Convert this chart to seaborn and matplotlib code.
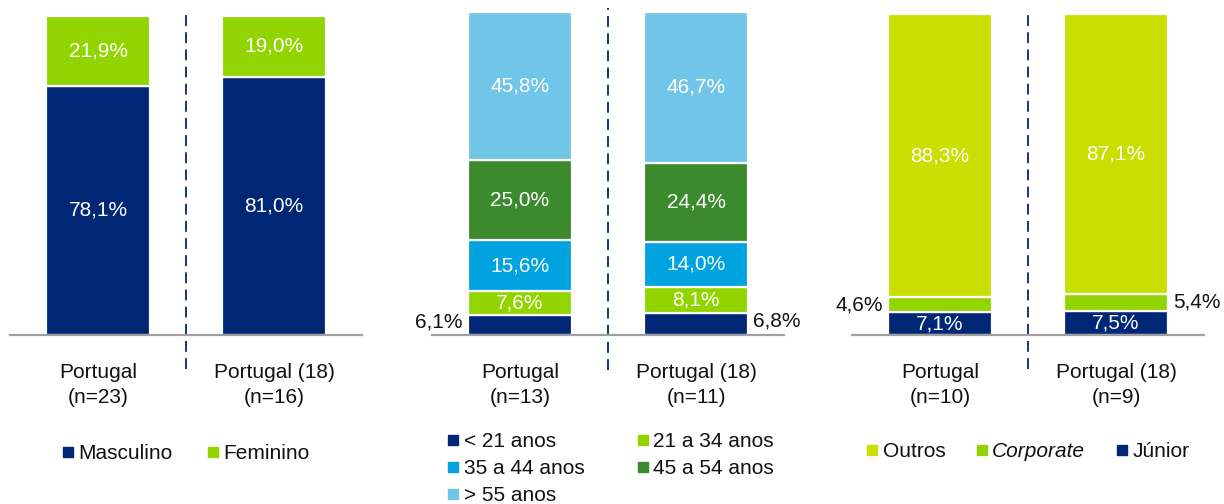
import numpy as np
import pandas as pd
import matplotlib
matplotlib.use("Agg")
import matplotlib.pyplot as plt
import seaborn as sns
from matplotlib.lines import Line2D

sns.set_theme(style="white")
plt.rcParams['font.family'] = ['Liberation Sans', 'DejaVu Sans']

# ---------------- data ----------------
categories_1 = ["Portugal\n(n=23)", "Portugal (18)\n(n=16)"]
gender_labels = ["Masculino", "Feminino"]
masculino = [78.1, 81.0]
feminino = [21.9, 19.0]

categories_2 = ["Portugal\n(n=13)", "Portugal (18)\n(n=11)"]
age_labels = ["< 21 anos", "21 a 34 anos", "35 a 44 anos", "45 a 54 anos", "> 55 anos"]
age_lt21 = [6.1, 6.8]
age_21_34 = [7.6, 8.1]
age_35_44 = [15.6, 14.0]
age_45_54 = [25.0, 24.4]
age_gt55 = [45.8, 46.7]

categories_3 = ["Portugal\n(n=10)", "Portugal (18)\n(n=9)"]
type_labels = ["Júnior", "Corporate", "Outros"]
junior = [7.1, 7.5]
corporate = [4.6, 5.4]
outros = [88.3, 87.1]

# ---------------- style ----------------
NAVY = "#002776"
GREEN = "#92D400"
LIME = "#C8DF00"
CYAN = "#00A3E0"
DKGREEN = "#3C8A2E"
LTBLUE = "#71C5E8"
FS = 15

W, H = 1224, 504
fig = plt.figure(figsize=(W / 100, H / 100), dpi=100)


def fmt(v):
    return f"{v:.1f}%".replace(".", ",")


def make_axes(left, right, top, base):
    return fig.add_axes([left / W, (H - base) / H, (right - left) / W, (base - top) / H])


def panel(ax, cats, series, names, colors, outside, out_dy=0):
    bottoms = np.zeros(len(cats))
    width = 0.59
    for si, (vals, name, col) in enumerate(zip(series, names, colors)):
        df = pd.DataFrame({"cat": cats, "val": vals})
        sns.barplot(data=df, x="cat", y="val", order=cats, color=col, width=width,
                    bottom=bottoms.copy(), edgecolor="white", linewidth=1.6,
                    saturation=1, ax=ax, errorbar=None)
        for i, v in enumerate(vals):
            mid = bottoms[i] + v / 2
            if si in outside:
                if i == 0:
                    ax.annotate(fmt(v), xy=(i - width / 2, mid), xytext=(-4, out_dy),
                                textcoords="offset points", ha="right", va="center",
                                fontsize=FS, color="#111111")
                else:
                    ax.annotate(fmt(v), xy=(i + width / 2, mid), xytext=(4, out_dy),
                                textcoords="offset points", ha="left", va="center",
                                fontsize=FS, color="#111111")
            else:
                ax.text(i, mid, fmt(v), ha="center", va="center", fontsize=FS, color="white")
        bottoms += np.array(vals)

    ax.set_xlim(-0.5, 1.5)
    ax.set_ylim(0, 100)
    ax.set_xlabel("")
    ax.set_ylabel("")
    ax.set_yticks([])
    ax.set_xticks(range(len(cats)))
    ax.set_xticklabels(cats, fontsize=FS, color="#111111", linespacing=1.42)
    ax.tick_params(axis="x", length=0, pad=20)
    for s in ["top", "left", "right"]:
        ax.spines[s].set_visible(False)
    ax.spines["bottom"].set_color("#A0A0A0")
    ax.spines["bottom"].set_linewidth(1.6)
    ax.patch.set_alpha(0)
    ax.plot([0.5, 0.5], [-10.7, 101.2], color=NAVY, lw=1.3,
            linestyle=(0, (6, 3.5)), clip_on=False, zorder=1)


def legend(ax, names, colors, order, ncol, anchor, colspace, italic=()):
    handles = [Line2D([], [], marker="s", linestyle="none", markersize=6.5,
                      markerfacecolor=c, markeredgecolor=c) for c in colors]
    h = [handles[k] for k in order]
    l = [names[k] for k in order]
    leg = ax.legend(h, l, loc="upper left", bbox_to_anchor=(anchor[0] / W, 1 - anchor[1] / H),
                    bbox_transform=fig.transFigure, ncol=ncol, frameon=False, fontsize=FS,
                    handlelength=0.6, handletextpad=0.2, columnspacing=colspace,
                    labelspacing=0.39, borderpad=0, borderaxespad=0)
    for t in leg.get_texts():
        if t.get_text() in italic:
            t.set_fontstyle("italic")
        t.set_color("#111111")
    return leg


# Panel 1
ax1 = make_axes(10, 362, 16, 335)
panel(ax1, categories_1, [masculino, feminino], gender_labels, [NAVY, GREEN], outside=())
legend(ax1, gender_labels, [NAVY, GREEN], [0, 1], 2, (62, 444), 1.6)

# Panel 2
ax2 = make_axes(432, 784, 12, 335)
panel(ax2, categories_2, [age_lt21, age_21_34, age_35_44, age_45_54, age_gt55], age_labels,
      [NAVY, GREEN, CYAN, DKGREEN, LTBLUE], outside=(0,), out_dy=2.5)
legend(ax2, age_labels, [NAVY, GREEN, CYAN, DKGREEN, LTBLUE], [0, 2, 4, 1, 3], 2, (447, 432), 2.5)

# Panel 3
ax3 = make_axes(852, 1204, 14, 335)
panel(ax3, categories_3, [junior, corporate, outros], type_labels,
      [NAVY, GREEN, LIME], outside=(1,))
legend(ax3, type_labels, [NAVY, GREEN, LIME], [2, 1, 0], 3, (866, 442), 1.45, italic=("Corporate",))

fig.savefig("out.png", dpi=100)
